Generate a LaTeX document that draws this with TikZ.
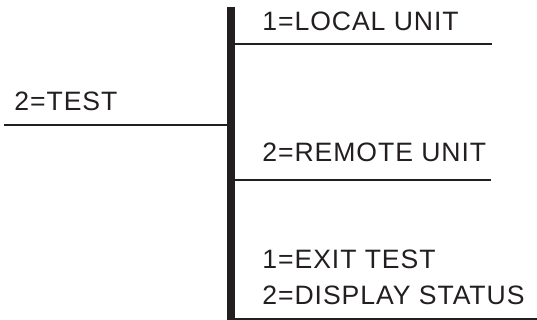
\documentclass[tikz,border=0pt]{standalone}
\usepackage{fontspec}
\setmainfont[LetterSpace=3.5]{Liberation Sans}
\usetikzlibrary{positioning}

\definecolor{ink}{RGB}{35,31,32}

\begin{document}
\begin{tikzpicture}[x=0.5pt, y=-0.5pt,
	menu/.style={anchor=base west, inner sep=0pt, text=ink, font=\fontsize{13.3}{18}\selectfont},
	rule/.style={draw=ink, line width=1pt},
	bar/.style={draw=ink, line width=4pt}]
	\useasboundingbox (0,0) rectangle (537,320);

	% the vertical bar the menu hangs from
	\coordinate (bartop) at (231,7);
	\coordinate (barbot) at (231,320);
	\draw[bar] (bartop) -- (barbot);

	% left entry
	\node[menu] (test) at (14,111) {2=TEST};
	\coordinate (testend) at (4,125);
	\draw[rule] (testend) -- (testend -| bartop);

	% right entries
	\node[menu] (local)  at (262,31)  {1=LOCAL UNIT};
	\node[menu] (remote) at (262,162) {2=REMOTE UNIT};
	\node[menu] (exit)   at (262,269) {1=EXIT TEST};
	\node[menu] (status) at (262,305) {2=DISPLAY STATUS};

	\coordinate (localend)  at (492,44);
	\coordinate (remoteend) at (491,180);
	\coordinate (statusend) at (537,319);
	\draw[rule] (localend -| bartop)  -- (localend);
	\draw[rule] (remoteend -| bartop) -- (remoteend);
	\draw[rule] (statusend -| bartop) -- (statusend);
\end{tikzpicture}
\end{document}
